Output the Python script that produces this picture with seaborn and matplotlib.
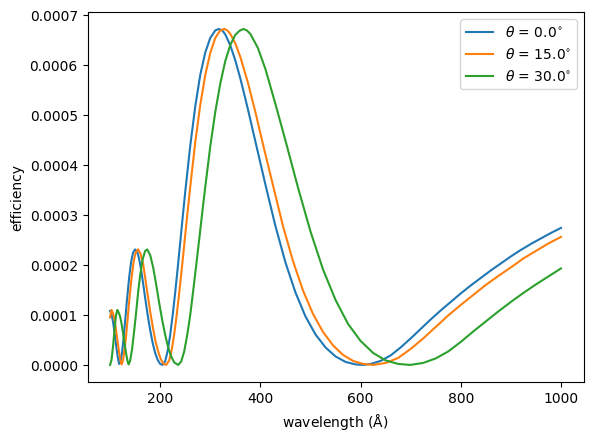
import numpy as np
import pandas as pd
import matplotlib
matplotlib.use("Agg")
import matplotlib.pyplot as plt
import seaborn as sns

# valores
angles = [0.0, 15.0, 30.0]

wl_0 = [100, 103, 106, 109, 112, 115, 118, 121, 124, 127, 130, 134, 138, 142, 146, 150,
        154, 158, 162, 166, 170, 175, 180, 185, 190, 195, 200, 205, 210, 215, 220, 225,
        230, 235, 240, 245, 250, 260, 270, 280, 290, 300, 310, 317, 324, 330, 340, 350, 360,
        375, 390, 410, 430, 450, 470, 490, 510, 530, 550, 570, 590, 605, 620, 640, 660,
        680, 700, 720, 740, 760, 780, 800, 820, 840, 860, 880, 900, 920, 940, 960, 980, 1000]
eff_0 = [1.08e-4, 1.01e-4, 0.86e-4, 0.64e-4, 0.40e-4, 0.18e-4, 0.02e-4, 0.07e-4, 0.26e-4,
         0.53e-4, 0.87e-4, 1.33e-4, 1.74e-4, 2.06e-4, 2.25e-4, 2.31e-4, 2.27e-4, 2.12e-4,
         1.90e-4, 1.63e-4, 1.34e-4, 1.00e-4, 0.70e-4, 0.44e-4, 0.24e-4, 0.10e-4, 0.02e-4,
         0.0, 0.075e-4, 0.28e-4, 0.60e-4, 1.00e-4, 1.45e-4, 1.94e-4, 2.45e-4, 2.96e-4,
         3.46e-4, 4.38e-4, 5.17e-4, 5.80e-4, 6.25e-4, 6.54e-4, 6.69e-4, 6.72e-4, 6.69e-4,
         6.61e-4, 6.39e-4, 6.09e-4, 5.73e-4, 5.12e-4, 4.47e-4, 3.61e-4, 2.78e-4, 2.05e-4,
         1.45e-4, 0.97e-4, 0.61e-4, 0.35e-4, 0.17e-4, 0.06e-4, 0.01e-4, 0.0, 0.02e-4,
         0.08e-4, 0.19e-4, 0.35e-4, 0.53e-4, 0.72e-4, 0.91e-4, 1.09e-4, 1.26e-4, 1.43e-4,
         1.59e-4, 1.74e-4, 1.89e-4, 2.03e-4, 2.17e-4, 2.30e-4, 2.42e-4, 2.53e-4, 2.64e-4,
         2.74e-4]

wl_15 = [100, 103, 106, 109, 112, 115, 118, 121, 123, 126, 129, 132, 135, 139, 143, 147,
         151, 156, 161, 166, 171, 176, 181, 186, 191, 196, 201, 206, 212, 218, 223, 228,
         233, 238, 243, 248, 254, 260, 270, 280, 290, 300, 310, 320, 328, 334, 340, 350, 360,
         375, 390, 405, 425, 445, 465, 485, 505, 525, 545, 565, 585, 605, 626, 650, 675,
         700, 725, 750, 775, 800, 825, 850, 875, 900, 925, 950, 975, 1000]
eff_15 = [0.95e-4, 1.10e-4, 1.03e-4, 0.90e-4, 0.69e-4, 0.47e-4, 0.25e-4, 0.07e-4, 0.01e-4,
          0.10e-4, 0.31e-4, 0.58e-4, 0.91e-4, 1.37e-4, 1.75e-4, 2.06e-4, 2.25e-4, 2.31e-4,
          2.22e-4, 2.02e-4, 1.68e-4, 1.34e-4, 1.01e-4, 0.72e-4, 0.46e-4, 0.27e-4, 0.12e-4,
          0.03e-4, 0.0, 0.09e-4, 0.30e-4, 0.61e-4, 1.00e-4, 1.44e-4, 1.91e-4, 2.40e-4,
          2.99e-4, 3.56e-4, 4.45e-4, 5.20e-4, 5.80e-4, 6.24e-4, 6.54e-4, 6.69e-4, 6.72e-4,
          6.69e-4, 6.62e-4, 6.43e-4, 6.16e-4, 5.65e-4, 5.06e-4, 4.42e-4, 3.60e-4, 2.78e-4,
          2.08e-4, 1.49e-4, 1.02e-4, 0.66e-4, 0.39e-4, 0.20e-4, 0.08e-4, 0.02e-4, 0.0,
          0.04e-4, 0.14e-4, 0.32e-4, 0.53e-4, 0.76e-4, 0.99e-4, 1.20e-4, 1.40e-4, 1.60e-4,
          1.78e-4, 1.95e-4, 2.13e-4, 2.28e-4, 2.43e-4, 2.56e-4]

wl_30 = [100, 103, 106, 109, 112, 114.5, 117, 120, 123, 126, 129, 132, 135, 137, 140, 144,
         148, 152, 156, 160, 165, 170, 174, 180, 186, 192, 198, 204, 210, 216, 222, 228,
         236, 242, 248, 254, 260, 266, 272, 278, 284, 290, 300, 310, 320, 330, 340, 350,
         358, 366, 373, 380, 395, 410, 430, 450, 475, 500, 525, 550, 575, 600, 625, 650,
         675, 699, 725, 750, 775, 800, 825, 850, 875, 900, 925, 950, 975, 1000]
eff_30 = [0.0, 0.105e-4, 0.38e-4, 0.72e-4, 1.00e-4, 1.10e-4, 1.05e-4, 0.97e-4, 0.82e-4,
          0.63e-4, 0.42e-4, 0.23e-4, 0.07e-4, 0.01e-4, 0.08e-4, 0.32e-4, 0.67e-4, 1.05e-4,
          1.45e-4, 1.79e-4, 2.11e-4, 2.28e-4, 2.31e-4, 2.20e-4, 1.95e-4, 1.61e-4, 1.24e-4,
          0.90e-4, 0.60e-4, 0.35e-4, 0.17e-4, 0.05e-4, 0.0, 0.07e-4, 0.27e-4, 0.60e-4,
          1.00e-4, 1.49e-4, 2.00e-4, 2.52e-4, 3.05e-4, 3.56e-4, 4.37e-4, 5.06e-4, 5.63e-4,
          6.08e-4, 6.40e-4, 6.60e-4, 6.68e-4, 6.72e-4, 6.69e-4, 6.62e-4, 6.34e-4, 5.92e-4,
          5.22e-4, 4.49e-4, 3.55e-4, 2.67e-4, 1.91e-4, 1.30e-4, 0.82e-4, 0.48e-4, 0.24e-4,
          0.09e-4, 0.02e-4, 0.0, 0.04e-4, 0.13e-4, 0.27e-4, 0.46e-4, 0.67e-4, 0.87e-4,
          1.07e-4, 1.26e-4, 1.44e-4, 1.61e-4, 1.77e-4, 1.93e-4]

curves = [(wl_0, eff_0), (wl_15, eff_15), (wl_30, eff_30)]
cores = sns.color_palette("tab10", 3)

fig, ax = plt.subplots(figsize=(6.4, 4.8))

for (wl, eff), theta, cor in zip(curves, angles, cores):
    sns.lineplot(x=wl, y=eff, ax=ax, color=cor, linewidth=1.5,
                 label=r"$\theta$ = {:.1f}$^{{\circ}}$".format(theta))

ax.set_xlabel(r"wavelength ($\mathrm{\AA}$)")
ax.set_ylabel("efficiency")
ax.legend(loc="upper right")

plt.savefig("out.png", dpi=100, bbox_inches="tight")
